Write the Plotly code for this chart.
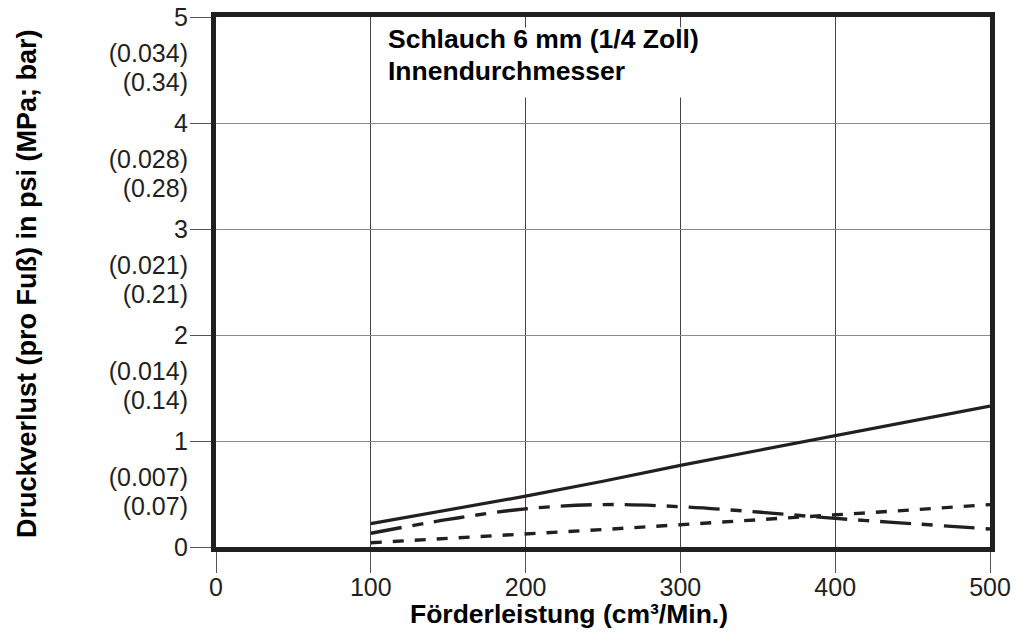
import plotly.graph_objects as go

# Data
flow = [100, 150, 200, 250, 300, 350, 400, 450, 500]
solid_loss = [0.22, 0.35, 0.48, 0.62, 0.77, 0.91, 1.05, 1.19, 1.33]
dashdot_loss = [0.13, 0.26, 0.36, 0.40, 0.38, 0.33, 0.27, 0.22, 0.17]
dash_loss = [0.04, 0.08, 0.12, 0.165, 0.21, 0.255, 0.30, 0.35, 0.40]

psi_ticks = [0, 1, 2, 3, 4, 5]
mpa_labels = ["(0.007)", "(0.014)", "(0.021)", "(0.028)", "(0.034)"]
bar_labels = ["(0.07)", "(0.14)", "(0.21)", "(0.28)", "(0.34)"]
x_ticks = [0, 100, 200, 300, 400, 500]

title_lines = ["Schlauch 6 mm (1/4 Zoll)", "Innendurchmesser"]
x_title = "Förderleistung (cm³/Min.)"
y_title = "Druckverlust (pro Fuß) in psi (MPa; bar)"

INK = "#231f20"
FONT = "Liberation Sans, Arial, sans-serif"
TICK_SIZE = 25
BOLD_SIZE = 26.5

fig = go.Figure()
fig.add_trace(go.Scatter(x=flow, y=solid_loss, mode="lines",
                         line=dict(color=INK, width=3.2), showlegend=False))
fig.add_trace(go.Scatter(x=flow, y=dashdot_loss, mode="lines", line_shape="spline",
                         line=dict(color=INK, width=3.4, dash="31px,11px,11px,11px"),
                         showlegend=False))
fig.add_trace(go.Scatter(x=flow, y=dash_loss, mode="lines",
                         line=dict(color=INK, width=3.4, dash="11px,11px"),
                         showlegend=False))
# dummy traces so the label axes are drawn
fig.add_trace(go.Scatter(x=[None], y=[None], xaxis="x", yaxis="y2",
                         showlegend=False, hoverinfo="skip"))
fig.add_trace(go.Scatter(x=[None], y=[None], xaxis="x2", yaxis="y",
                         showlegend=False, hoverinfo="skip"))

# all y labels: integers at their ticks, MPa and bar values below each integer
lab_vals = list(psi_ticks)
lab_text = [str(v) for v in psi_ticks]
for i, v in enumerate(psi_ticks[1:]):
    lab_vals += [v - 0.34, v - 0.62]
    lab_text += [mpa_labels[i], bar_labels[i]]

fig.update_layout(
    width=1019, height=632,
    margin=dict(l=216, r=29, t=17, b=85),
    paper_bgcolor="white", plot_bgcolor="white",
    font=dict(family=FONT, color=INK),
    xaxis=dict(range=[0, 500], tickvals=x_ticks, showgrid=True, gridcolor="#444",
               gridwidth=1, zeroline=False, showline=True, mirror=True,
               linecolor=INK, linewidth=5, ticks="outside", ticklen=21,
               tickcolor="#555", tickwidth=1, showticklabels=False,
               automargin=False),
    xaxis2=dict(range=[0, 500], overlaying="x", anchor="y", side="bottom",
                tickvals=x_ticks, showgrid=False, zeroline=False, showline=False,
                ticks="outside", ticklen=18, tickcolor="rgba(0,0,0,0)",
                automargin=False,
                tickfont=dict(size=TICK_SIZE, color=INK, family=FONT)),
    yaxis=dict(range=[0, 5], tickvals=psi_ticks, showgrid=True, gridcolor="#8a8a8a",
               gridwidth=1, zeroline=False, showline=True, mirror=True,
               linecolor=INK, linewidth=5, ticks="outside", ticklen=21,
               tickcolor="#555", tickwidth=1, showticklabels=False,
               automargin=False),
    yaxis2=dict(range=[0, 5], overlaying="y", anchor="x", side="left",
                tickvals=lab_vals, ticktext=lab_text, showgrid=False,
                zeroline=False, showline=False, ticks="outside", ticklen=22,
                tickcolor="rgba(0,0,0,0)", automargin=False,
                tickfont=dict(size=TICK_SIZE, color=INK, family=FONT)),
)

# white box behind the inset title (interrupts the grid)
fig.add_shape(type="rect", xref="x", yref="y", x0=106, x1=330, y0=4.24, y1=4.9,
              fillcolor="white", line=dict(width=0), layer="between")

fig.add_annotation(text="<b>" + title_lines[0] + "</b>", xref="x", yref="paper",
                   x=110, y=(547 - 39) / 530, xanchor="left", yanchor="middle",
                   showarrow=False, font=dict(size=BOLD_SIZE, color="black", family=FONT))
fig.add_annotation(text="<b>" + title_lines[1] + "</b>", xref="x", yref="paper",
                   x=110, y=(547 - 71) / 530, xanchor="left", yanchor="middle",
                   showarrow=False, font=dict(size=BOLD_SIZE, color="black", family=FONT))

fig.add_annotation(text="<b>" + x_title + "</b>", xref="paper", yref="paper",
                   x=(569 - 216) / 774, y=(547 - 614) / 530, xanchor="center",
                   yanchor="middle", showarrow=False,
                   font=dict(size=BOLD_SIZE, color="black", family=FONT))
fig.add_annotation(text="<b>" + y_title + "</b>", xref="paper", yref="paper",
                   x=(27 - 216) / 774, y=(547 - 284) / 530, xanchor="center",
                   yanchor="middle", textangle=-90, showarrow=False,
                   font=dict(size=27, color="black", family=FONT))

fig.write_html("out.html",
               config={"displayModeBar": False},
               post_script="document.body.style.margin='0';"
                           "document.body.style.overflow='hidden';")
